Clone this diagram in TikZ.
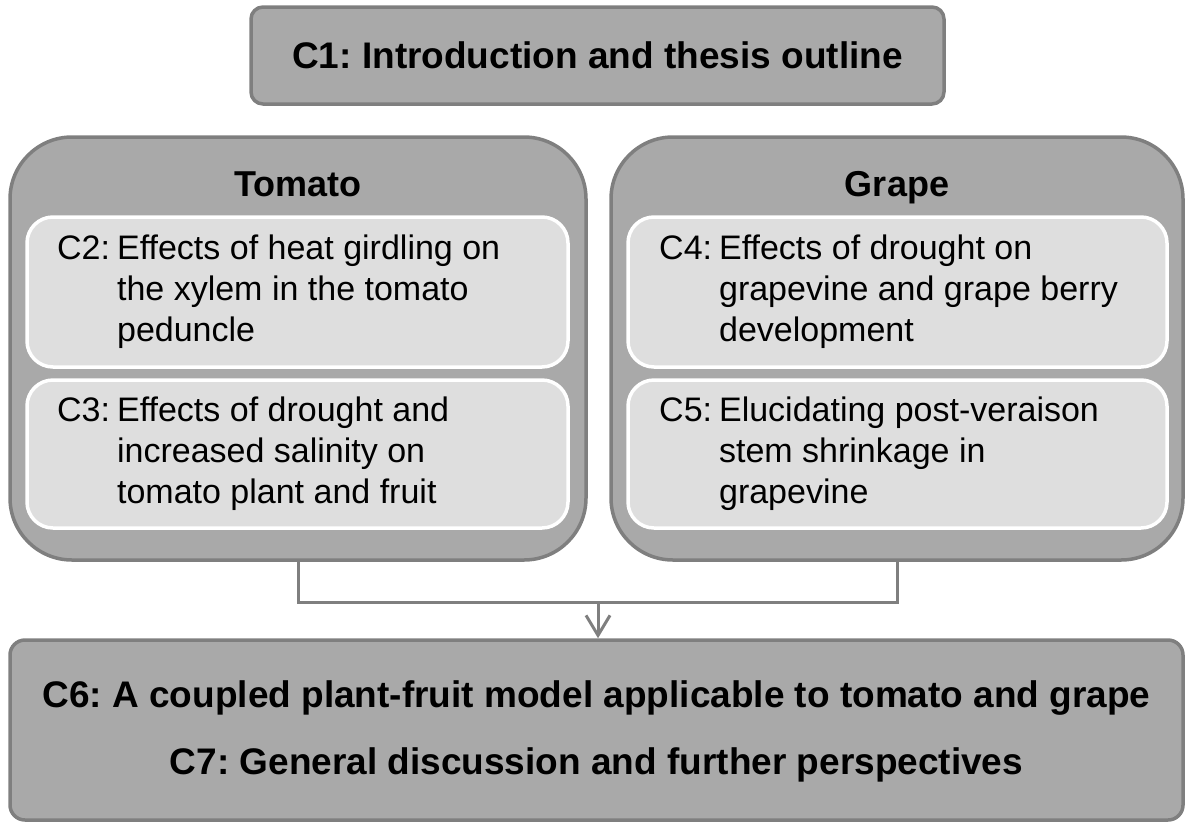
\documentclass[tikz,border=0pt]{standalone}
\usepackage{fontspec}
\setmainfont{Liberation Sans}
\usetikzlibrary{arrows.meta}
\definecolor{outerfill}{HTML}{A9A9A9}
\definecolor{outerline}{HTML}{7F7F7F}
\definecolor{innerfill}{HTML}{DEDEDE}
\frenchspacing
\begin{document}
\frenchspacing
\begin{tikzpicture}[x=1pt,y=-1pt,
  greybox/.style={draw=outerline, fill=outerfill, line width=3.5pt, inner sep=0pt},
  lightbox/.style={draw=white, fill=innerfill, line width=3.5pt, inner sep=0pt, rounded corners=26pt},
  boldtext/.style={font=\fontsize{37}{67}\selectfont\bfseries\frenchspacing, align=center, inner sep=0pt},
  headtext/.style={font=\fontsize{36}{43}\selectfont\bfseries, inner sep=0pt, anchor=base},
  bodytext/.style={font=\fontsize{34}{41}\selectfont\frenchspacing, anchor=west, inner sep=0pt},
  conn/.style={draw=outerline, line width=3pt}
]
\useasboundingbox (0,0) rectangle (1191,828);

% C1
\node[greybox, rounded corners=12pt, minimum width=693pt, minimum height=97pt] (c1) at (597.5,55.5) {};
\node[boldtext] (c1t) at (c1.center) {C1: Introduction and thesis outline};

% Tomato
\node[greybox, rounded corners=62pt, minimum width=576pt, minimum height=423pt] (tomato) at (298,348.5) {};
\node[headtext] (tomh) at (298,196) {Tomato};
\node[lightbox, minimum width=541pt, minimum height=150pt] (c2) at (297.5,292) {};
\node[bodytext] (c2t) at (57,292) {\begin{tabular}{@{}l@{\hspace{7pt}}l@{}}C2:&Effects of heat girdling on\\ &the xylem in the tomato\\ &peduncle\end{tabular}};
\node[lightbox, minimum width=541pt, minimum height=148pt] (c3) at (297.5,454) {};
\node[bodytext] (c3t) at (57,454) {\begin{tabular}{@{}l@{\hspace{7pt}}l@{}}C3:&Effects of drought and\\ &increased salinity on\\ &tomato plant and fruit\end{tabular}};

% Grape
\node[greybox, rounded corners=62pt, minimum width=572pt, minimum height=423pt] (grape) at (897,348.5) {};
\node[headtext] (grah) at (897,196) {Grape};
\node[lightbox, minimum width=539pt, minimum height=150pt] (c4) at (897.5,292) {};
\node[bodytext] (c4t) at (659,292) {\begin{tabular}{@{}l@{\hspace{7pt}}l@{}}C4:&Effects of drought on\\ &grapevine and grape berry\\ &development\end{tabular}};
\node[lightbox, minimum width=539pt, minimum height=148pt] (c5) at (897.5,454) {};
\node[bodytext] (c5t) at (659,454) {\begin{tabular}{@{}l@{\hspace{7pt}}l@{}}C5:&Elucidating post-veraison\\ &stem shrinkage in\\ &grapevine\end{tabular}};

% Bottom
\node[greybox, rounded corners=15pt, minimum width=1173pt, minimum height=180pt] (bottom) at (596.5,730) {};
\node[boldtext] (bott) at (596.5,731) {C6: A coupled plant-fruit model applicable to tomato and grape\\C7: General discussion and further perspectives};

% Connectors
\coordinate (join) at (598,602);
\draw[conn] (tomato.south) |- (join) -| (grape.south);
\draw[conn, -{Straight Barb[length=20pt,width=24pt,line width=3pt]}] (join) -- (join |- bottom.north);
\end{tikzpicture}
\end{document}
